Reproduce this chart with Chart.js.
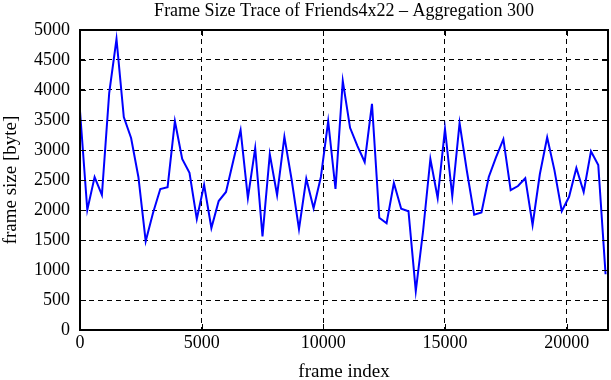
<!DOCTYPE html>
<html>
<head>
<meta charset="utf-8">
<script src="https://cdn.jsdelivr.net/npm/chart.js@4"></script>
<style>
  html, body { margin: 0; padding: 0; background: #fff; }
  #wrap { width: 611px; height: 380px; }
</style>
</head>
<body>
<div id="wrap"><canvas id="chart"></canvas></div>
<script>
// aggregation step (frames per sample)
const step = 300;
// frame sizes in byte, one per 300 frames
const frameSizes = [
  3650, 2000, 2550, 2250, 3950, 4850, 3550, 3200, 2550, 1480,
  1950, 2350, 2380, 3480, 2850, 2620, 1850, 2420, 1700, 2150,
  2300, 2820, 3330, 2200, 3030, 1560, 2930, 2250, 3220, 2500,
  1680, 2520, 2030, 2550, 3480, 2350, 4150, 3370, 3070, 2800,
  3770, 1870, 1780, 2450, 2020, 1980, 650, 1650, 2850, 2200,
  3350, 2230, 3450, 2650, 1920, 1960, 2550, 2880, 3180, 2330,
  2400, 2530, 1750, 2600, 3210, 2660, 1980, 2220, 2700, 2300,
  2980, 2750, 930
];
const frameIndex = frameSizes.map((v, i) => i * step);
const xTicks = [0, 5000, 10000, 15000, 20000];
const yTicks = [0, 500, 1000, 1500, 2000, 2500, 3000, 3500, 4000, 4500, 5000];

const titleText = 'Frame Size Trace of Friends4x22 \u2013 Aggregation 300';
const fontFamily = '"Liberation Serif", "DejaVu Serif", serif';

// gnuplot-like frame: solid border plus inward ticks on all sides, and the title
const framePlugin = {
  id: 'frame',
  afterDatasetsDraw(chart) {
    const { ctx, chartArea: a, scales } = chart;
    ctx.save();
    ctx.strokeStyle = '#000';
    ctx.lineWidth = 1;
    ctx.setLineDash([]);
    ctx.beginPath();
    xTicks.forEach(v => {
      const x = Math.round(scales.x.getPixelForValue(v)) + 0.5;
      ctx.moveTo(x, a.bottom); ctx.lineTo(x, a.bottom - 6);
      ctx.moveTo(x, a.top); ctx.lineTo(x, a.top + 6);
    });
    yTicks.forEach(v => {
      const y = Math.round(scales.y.getPixelForValue(v)) + 0.5;
      ctx.moveTo(a.left, y); ctx.lineTo(a.left + 6, y);
      ctx.moveTo(a.right, y); ctx.lineTo(a.right - 6, y);
    });
    ctx.stroke();
    ctx.lineWidth = 2;
    ctx.strokeRect(a.left, a.top, a.right - a.left, a.bottom - a.top);
    ctx.fillStyle = '#000';
    ctx.font = '18px ' + fontFamily;
    ctx.textAlign = 'center';
    ctx.textBaseline = 'middle';
    ctx.fillText(titleText, (a.left + a.right) / 2, 11);
    ctx.restore();
  }
};

new Chart(document.getElementById('chart'), {
  type: 'line',
  data: {
    datasets: [{
      data: frameIndex.map((x, i) => ({ x: x, y: frameSizes[i] })),
      borderColor: '#0000ff',
      borderWidth: 2,
      pointRadius: 0,
      tension: 0,
      fill: false
    }]
  },
  options: {
    responsive: true,
    maintainAspectRatio: false,
    animation: false,
    layout: { padding: { top: 30, right: 3, left: 0, bottom: 0 } },
    plugins: { legend: { display: false }, tooltip: { enabled: false } },
    scales: {
      x: {
        type: 'linear',
        min: 0,
        max: 21700,
        afterBuildTicks: s => { s.ticks = xTicks.map(v => ({ value: v })); },
        afterFit: s => { s.height = 50; },
        border: { display: false, dash: [5, 4] },
        grid: { color: '#000', lineWidth: 1, drawTicks: false },
        ticks: { color: '#000', padding: 2, maxRotation: 0, autoSkip: false,
                 callback: v => String(v),
                 font: { family: fontFamily, size: 18 } },
        title: { display: true, text: 'frame index', color: '#000',
                 padding: { top: 0, bottom: -3 },
                 font: { family: fontFamily, size: 19 } }
      },
      y: {
        min: 0,
        max: 5000,
        afterBuildTicks: s => { s.ticks = yTicks.map(v => ({ value: v })); },
        afterFit: s => { s.width = 80; },
        border: { display: false, dash: [5, 4] },
        grid: { color: '#000', lineWidth: 1, drawTicks: false },
        ticks: { color: '#000', padding: 10, callback: v => String(v),
                 font: { family: fontFamily, size: 18 } },
        title: { display: true, text: 'frame size [byte]', color: '#000',
                 padding: { top: 0, bottom: 0 },
                 font: { family: fontFamily, size: 19 } }
      }
    }
  },
  plugins: [framePlugin]
});
</script>
</body>
</html>
